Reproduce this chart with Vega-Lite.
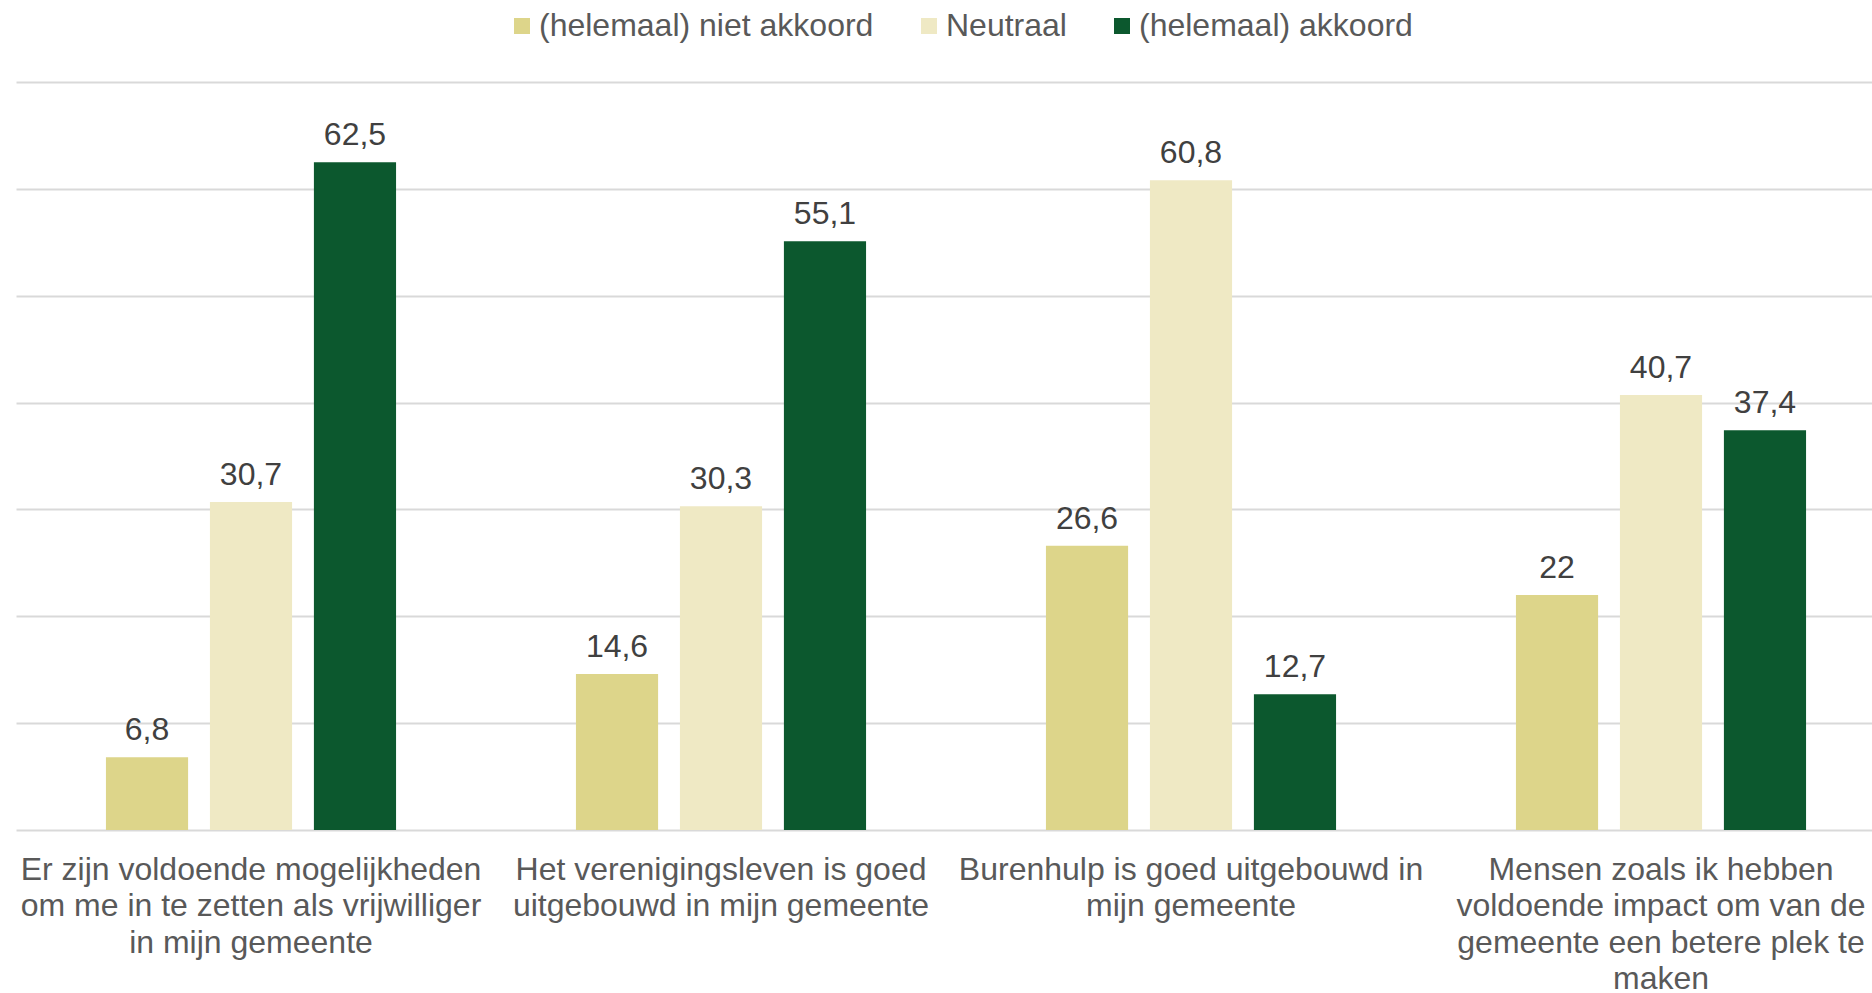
{
  "$schema": "https://vega.github.io/schema/vega-lite/v6.json",
  "width": 1856,
  "height": 748,
  "autosize": {"type": "none"},
  "padding": {"left": 16, "top": 82, "right": 0, "bottom": 163},
  "background": "white",
  "config": {
    "view": {"stroke": null},
    "font": "Liberation Sans",
    "locale": {"number": {"decimal": ",", "thousands": ".", "grouping": [3], "currency": ["€", ""]}}
  },
  "data": {
    "values": [
      {"stelling": "Er zijn voldoende mogelijkheden om me in te zetten als vrijwilliger in mijn gemeente", "antwoord": "(helemaal) niet akkoord", "pct": 6.8},
      {"stelling": "Er zijn voldoende mogelijkheden om me in te zetten als vrijwilliger in mijn gemeente", "antwoord": "Neutraal", "pct": 30.7},
      {"stelling": "Er zijn voldoende mogelijkheden om me in te zetten als vrijwilliger in mijn gemeente", "antwoord": "(helemaal) akkoord", "pct": 62.5},
      {"stelling": "Het verenigingsleven is goed uitgebouwd in mijn gemeente", "antwoord": "(helemaal) niet akkoord", "pct": 14.6},
      {"stelling": "Het verenigingsleven is goed uitgebouwd in mijn gemeente", "antwoord": "Neutraal", "pct": 30.3},
      {"stelling": "Het verenigingsleven is goed uitgebouwd in mijn gemeente", "antwoord": "(helemaal) akkoord", "pct": 55.1},
      {"stelling": "Burenhulp is goed uitgebouwd in mijn gemeente", "antwoord": "(helemaal) niet akkoord", "pct": 26.6},
      {"stelling": "Burenhulp is goed uitgebouwd in mijn gemeente", "antwoord": "Neutraal", "pct": 60.8},
      {"stelling": "Burenhulp is goed uitgebouwd in mijn gemeente", "antwoord": "(helemaal) akkoord", "pct": 12.7},
      {"stelling": "Mensen zoals ik hebben voldoende impact om van de gemeente een betere plek te maken", "antwoord": "(helemaal) niet akkoord", "pct": 22},
      {"stelling": "Mensen zoals ik hebben voldoende impact om van de gemeente een betere plek te maken", "antwoord": "Neutraal", "pct": 40.7},
      {"stelling": "Mensen zoals ik hebben voldoende impact om van de gemeente een betere plek te maken", "antwoord": "(helemaal) akkoord", "pct": 37.4}
    ]
  },
  "encoding": {
    "x": {
      "field": "stelling",
      "type": "nominal",
      "sort": null,
      "scale": {"paddingInner": 0, "paddingOuter": 0, "range": [0, 1880]},
      "axis": {
        "title": null,
        "labelAngle": 0,
        "labelFontSize": 32,
        "labelColor": "#595959",
        "labelLineHeight": 36.6,
        "labelPadding": 24,
        "labelLimit": 0,
        "ticks": false,
        "domain": true,
        "domainColor": "#D9D9D9",
        "domainWidth": 2,
        "labelExpr": "indexof(datum.value, 'Er zijn') == 0 ? ['Er zijn voldoende mogelijkheden', 'om me in te zetten als vrijwilliger', 'in mijn gemeente'] : indexof(datum.value, 'Het ver') == 0 ? ['Het verenigingsleven is goed', 'uitgebouwd in mijn gemeente'] : indexof(datum.value, 'Burenhulp') == 0 ? ['Burenhulp is goed uitgebouwd in', 'mijn gemeente'] : ['Mensen zoals ik hebben', 'voldoende impact om van de', 'gemeente een betere plek te', 'maken']"
      }
    },
    "xOffset": {
      "field": "antwoord",
      "type": "nominal",
      "sort": ["(helemaal) niet akkoord", "Neutraal", "(helemaal) akkoord"],
      "scale": {"paddingInner": 0.21, "paddingOuter": 0.865}
    },
    "y": {
      "field": "pct",
      "type": "quantitative",
      "scale": {"domain": [0, 70], "nice": false},
      "axis": {
        "title": null,
        "labels": false,
        "ticks": false,
        "domain": false,
        "grid": true,
        "gridColor": "#D9D9D9",
        "gridWidth": 2,
        "values": [10, 20, 30, 40, 50, 60, 70]
      }
    }
  },
  "layer": [
    {
      "mark": {"type": "bar"},
      "encoding": {
        "color": {
          "field": "antwoord",
          "type": "nominal",
          "sort": ["(helemaal) niet akkoord", "Neutraal", "(helemaal) akkoord"],
          "scale": {
            "domain": ["(helemaal) niet akkoord", "Neutraal", "(helemaal) akkoord"],
            "range": ["#DDD58A", "#EFE9C4", "#0C582E"]
          },
          "legend": {
            "title": null,
            "orient": "none",
            "direction": "horizontal",
            "legendX": 490,
            "legendY": -72,
            "symbolType": "square",
            "symbolSize": 256,
            "symbolStrokeWidth": 0,
            "labelFontSize": 32,
            "labelColor": "#595959",
            "labelOffset": 1,
            "columnPadding": 39,
            "labelLimit": 0
          }
        }
      }
    },
    {
      "mark": {"type": "text", "baseline": "alphabetic", "dy": -17, "fontSize": 32, "color": "#404040"},
      "encoding": {
        "text": {"field": "pct", "type": "quantitative", "format": ".1~f"}
      }
    }
  ]
}
